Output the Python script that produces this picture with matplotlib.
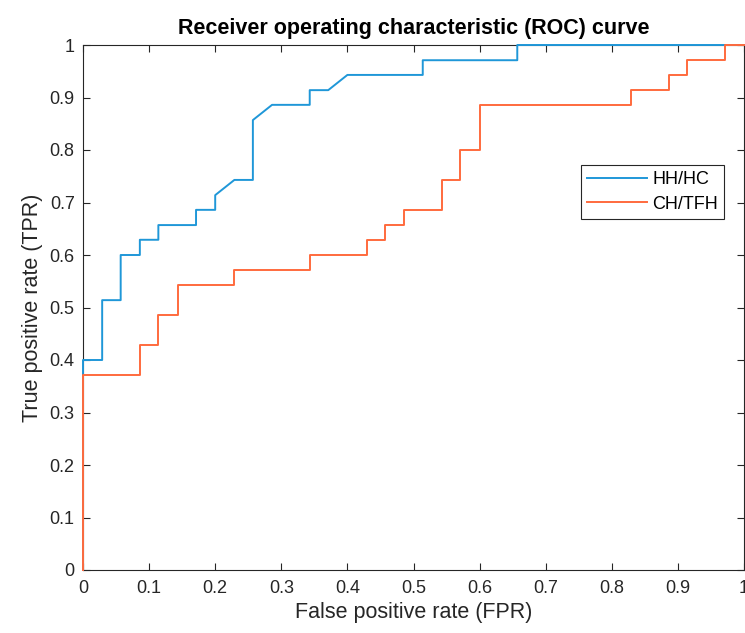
import matplotlib
matplotlib.use("Agg")
import matplotlib.pyplot as plt

plt.rcParams['font.family'] = ['Liberation Sans', 'DejaVu Sans']

# ROC points
fpr_hh = [0, 0, 0.029, 0.029, 0.057, 0.057, 0.086, 0.086, 0.114, 0.114, 0.171, 0.171,
          0.2, 0.2, 0.229, 0.257, 0.257, 0.286, 0.343, 0.343, 0.371, 0.4, 0.514, 0.514,
          0.657, 0.657, 1.0]
tpr_hh = [0, 0.4, 0.4, 0.514, 0.514, 0.6, 0.6, 0.629, 0.629, 0.657, 0.657, 0.686,
          0.686, 0.714, 0.743, 0.743, 0.857, 0.886, 0.886, 0.914, 0.914, 0.943, 0.943, 0.971,
          0.971, 1.0, 1.0]

fpr_ch = [0, 0, 0.086, 0.086, 0.114, 0.114, 0.143, 0.143, 0.229, 0.229, 0.343, 0.343,
          0.429, 0.429, 0.457, 0.457, 0.486, 0.486, 0.543, 0.543, 0.571, 0.571, 0.6, 0.6,
          0.829, 0.829, 0.886, 0.886, 0.914, 0.914, 0.971, 0.971, 1.0]
tpr_ch = [0, 0.371, 0.371, 0.429, 0.429, 0.486, 0.486, 0.543, 0.543, 0.571, 0.571, 0.6,
          0.6, 0.629, 0.629, 0.657, 0.657, 0.686, 0.686, 0.743, 0.743, 0.8, 0.8, 0.886,
          0.886, 0.914, 0.914, 0.943, 0.943, 0.971, 0.971, 1.0, 1.0]

labels = ['HH/HC', 'CH/TFH']
ticks = [0, 0.1, 0.2, 0.3, 0.4, 0.5, 0.6, 0.7, 0.8, 0.9, 1]
tick_labels = ['0', '0.1', '0.2', '0.3', '0.4', '0.5', '0.6', '0.7', '0.8', '0.9', '1']

fig = plt.figure(figsize=(7.45, 6.33), dpi=100)
ax = fig.add_axes([83/745, 63/633, 661/745, 525/633])

# lines sit over the spines like in the original
ax.plot(fpr_hh, tpr_hh, color='#1f97d8', lw=1.4, label=labels[0], zorder=3, clip_on=False)
ax.plot(fpr_ch, tpr_ch, color='#ff6a3d', lw=1.4, label=labels[1], zorder=3, clip_on=False)

ax.set_xlim(0, 1)
ax.set_ylim(0, 1)
ax.set_xticks(ticks)
ax.set_xticklabels(tick_labels)
ax.set_yticks(ticks)
ax.set_yticklabels(tick_labels)
ax.tick_params(direction='in', top=True, right=True, length=5, width=0.8,
               labelsize=13, colors='#262626')
ax.tick_params(axis='x', pad=7)
ax.tick_params(axis='y', pad=6)
for s in ax.spines.values():
    s.set_color('#262626')
    s.set_linewidth(0.8)

ax.set_xlabel('False positive rate (FPR)', fontsize=15.5, color='#262626', labelpad=4)
ax.set_ylabel('True positive rate (TPR)', fontsize=15.5, color='#262626', labelpad=5)
ax.set_title('Receiver operating characteristic (ROC) curve', fontsize=15.5,
             fontweight='bold', pad=8)

leg = ax.legend(loc='upper left', bbox_to_anchor=(0.753, 0.772), fontsize=13,
                fancybox=False, framealpha=1, edgecolor='#262626',
                handlelength=3.3, handletextpad=0.3, borderpad=0.35, labelspacing=0.42,
                borderaxespad=0)
leg.get_frame().set_linewidth(0.8)

fig.savefig('out.png', dpi=100)
